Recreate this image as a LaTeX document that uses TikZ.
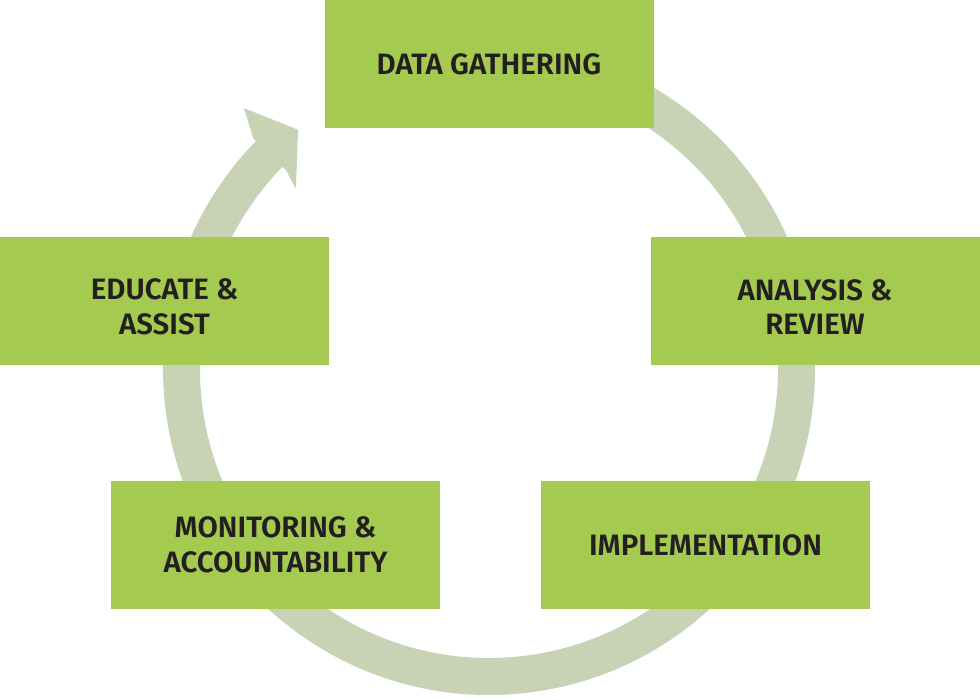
\documentclass[tikz,border=0pt]{standalone}
\usepackage{fontspec}
\setmainfont{Fira Sans}[UprightFont={* SemiBold}]
\definecolor{boxgreen}{HTML}{A4CB50}
\definecolor{ringgreen}{HTML}{C8D3B6}
\definecolor{txt}{HTML}{231F20}
\tikzset{
  stagebox/.style={fill=boxgreen, draw=none, minimum width=329pt, minimum height=128pt,
    inner sep=0pt, align=center, text=txt, font=\fontsize{29.5}{34.5}\selectfont},
  stagetext/.style={inner sep=0pt, align=center, text=txt, font=\fontsize{29.5}{34.5}\selectfont},
  ringline/.style={draw=ringgreen, line width=37pt},
}
\begin{document}
\begin{tikzpicture}[x=1pt,y=1pt]
\useasboundingbox (0,0) rectangle (980,700);
\coordinate (c) at (489,331);
% ring
\begin{scope}[shift={(c)}]
  \draw[ringline] (95:307.5) arc[start angle=95, end angle=-226, radius=307.5];
  \fill[ringgreen] (128.6:306) -- (133.2:358) -- (135.6:330) -- (135.6:284) -- (137:264) -- cycle;
\end{scope}
% boxes
\node[stagebox] (data) at (489,636) {DATA GATHERING};
\node[stagebox] (analysis) at (815,399) {};
\node[stagetext] (analysis-t) at ([yshift=-6pt]analysis.center) {ANALYSIS \&\\REVIEW};
\node[stagebox] (impl) at (705.5,155) {IMPLEMENTATION};
\node[stagebox] (monitor) at (275.5,155) {MONITORING \&\\ACCOUNTABILITY};
\node[stagebox] (educate) at (164.5,399) {};
\node[stagetext] (educate-t) at ([yshift=-6pt]educate.center) {EDUCATE \&\\ASSIST};
\end{tikzpicture}
\end{document}
